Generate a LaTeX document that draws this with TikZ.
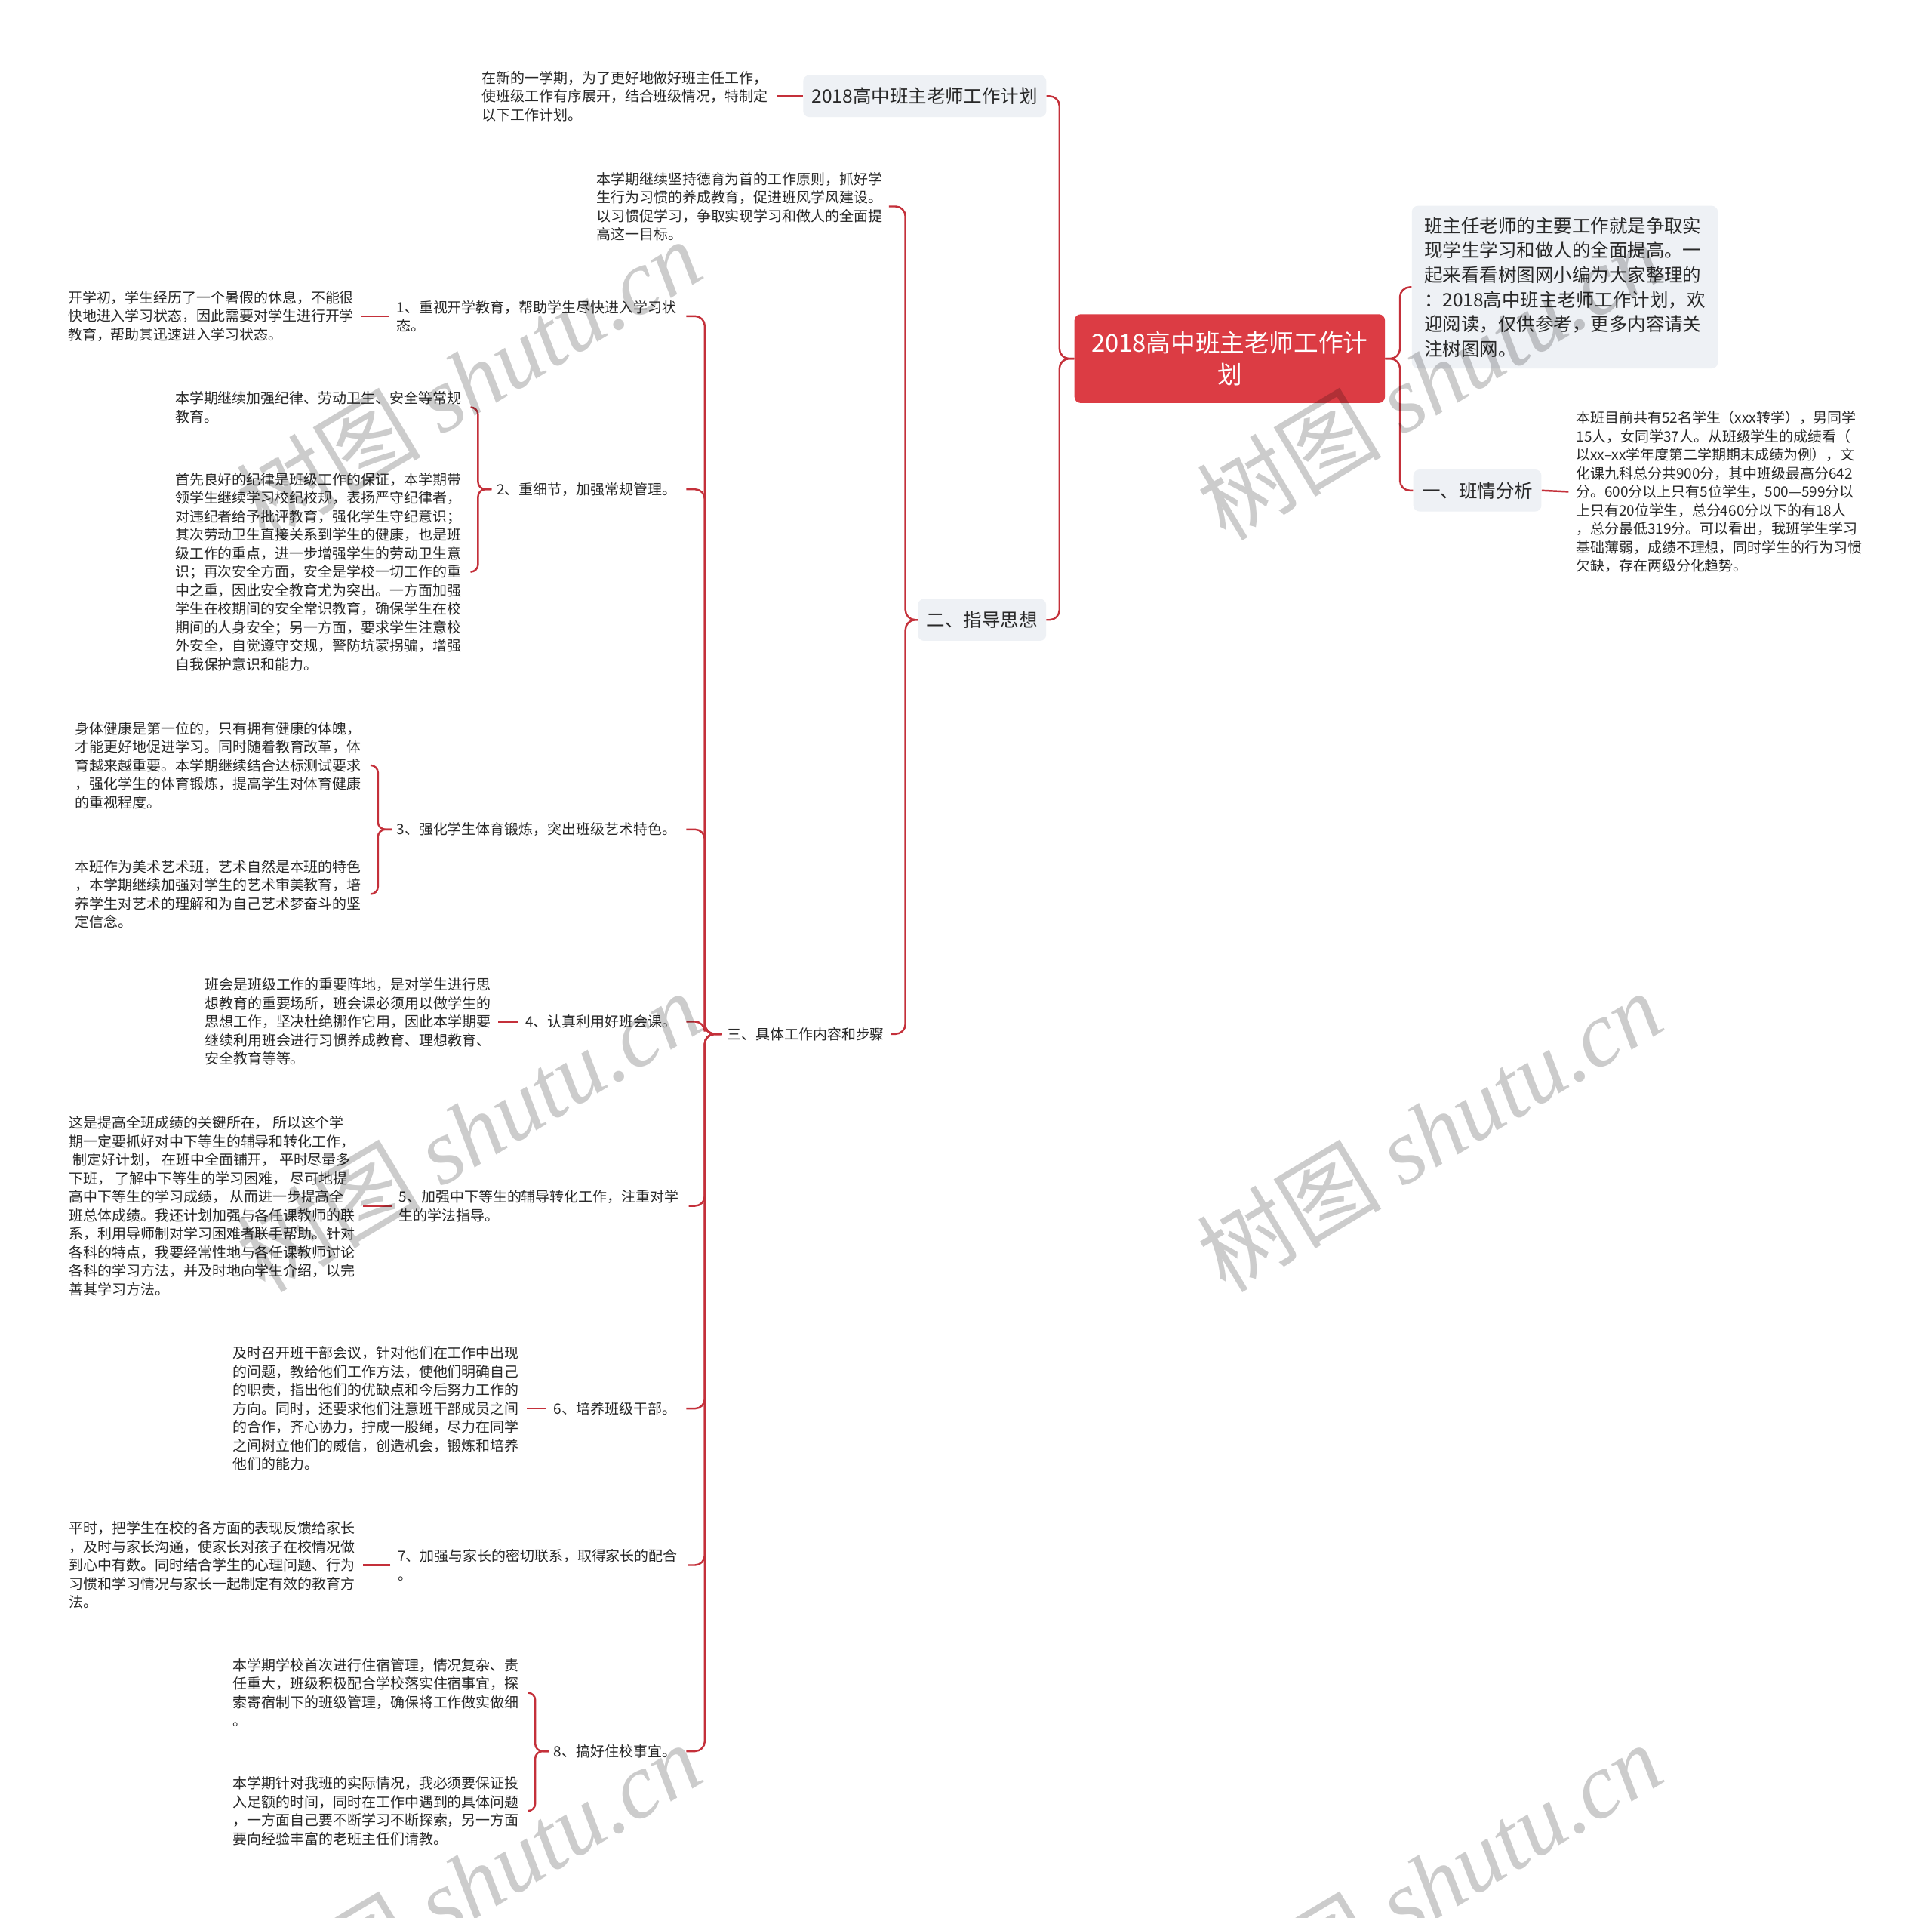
\documentclass[tikz,border=0pt]{standalone}
\usepackage{fontspec}
\setmainfont{Noto Sans CJK SC}
\newfontfamily\wmlat{Liberation Serif}
\definecolor{rootred}{RGB}{220,60,68}
\definecolor{linered}{RGB}{196,48,58}
\definecolor{boxgray}{RGB}{238,241,245}
\definecolor{txt}{RGB}{40,40,40}
\tikzset{
  conn/.style={draw=linered, line width=1.5pt, rounded corners=8pt},
  leaf/.style={inner sep=0pt, align=left, text=txt, font=\fontsize{11.6}{15}\selectfont},
  midbox/.style={fill=boxgray, rounded corners=5pt, inner xsep=7pt, inner ysep=0pt,
    minimum height=34pt, text=txt, font=\fontsize{15}{20}\selectfont},
  descbox/.style={fill=boxgray, rounded corners=5pt, inner xsep=10pt, inner ysep=0pt,
    minimum height=132pt, minimum width=248pt, align=left, text=txt, font=\fontsize{15}{20}\selectfont},
  rootbox/.style={fill=rootred, rounded corners=5pt, inner sep=0pt, minimum width=252pt,
    minimum height=72pt, align=center, text=white, font=\fontsize{20}{26}\selectfont},
  wm/.style={text=black, text opacity=0.2, inner sep=0pt, anchor=base west, rotate=31,
    font=\fontsize{75}{80}\selectfont}
}
\newcommand{\wmtext}{树图 {\wmlat\itshape shutu.cn}}
\begin{document}
\begin{tikzpicture}[x=1pt,y=-1pt]
\useasboundingbox[fill=white] (0,0) rectangle (1568,1556);

% root and right side
\node[rootbox] (root) at (998,291) {2018高中班主老师工作计\\划};
\node[descbox] (desc) at (1270,233) {班主任老师的主要工作就是争取实\\现学生学习和做人的全面提高。一\\起来看看树图网小编为大家整理的\\：2018高中班主老师工作计划，欢\\迎阅读，仅供参考，更多内容请关\\注树图网。};
\node[midbox] (bq) at (1199,398) {一、班情分析};
\node[leaf, anchor=west] (bqleaf) at (1279,399) {本班目前共有52名学生（xxx转学），男同学\\15人，女同学37人。从班级学生的成绩看（\\以xx–xx学年度第二学期期末成绩为例），文\\化课九科总分共900分，其中班级最高分642\\分。600分以上只有5位学生，500—599分以\\上只有20位学生，总分460分以下的有18人\\，总分最低319分。可以看出，我班学生学习\\基础薄弱，成绩不理想，同时学生的行为习惯\\欠缺，存在两级分化趋势。};

% left first level
\node[midbox] (title) at (750.5,78) {2018高中班主老师工作计划};
\node[leaf, anchor=west] (titleleaf) at (391,78) {在新的一学期，为了更好地做好班主任工作，\\使班级工作有序展开，结合班级情况，特制定\\以下工作计划。};
\node[midbox] (zd) at (797,503) {二、指导思想};
\node[leaf, anchor=west] (zdleaf) at (484,167.5) {本学期继续坚持德育为首的工作原则，抓好学\\生行为习惯的养成教育，促进班风学风建设。\\以习惯促学习，争取实现学习和做人的全面提\\高这一目标。};
\node[leaf, anchor=west] (s3) at (590,839) {三、具体工作内容和步骤};

% items
\node[leaf, anchor=east] (i1) at (549,256.5) {1、重视开学教育，帮助学生尽快进入学习状\\态。};
\node[leaf, anchor=west] (l1) at (55,256.5) {开学初，学生经历了一个暑假的休息，不能很\\快地进入学习状态，因此需要对学生进行开学\\教育，帮助其迅速进入学习状态。};

\node[leaf, anchor=east] (i2) at (549,397) {2、重细节，加强常规管理。};
\node[leaf, anchor=west] (l2a) at (142,330.5) {本学期继续加强纪律、劳动卫生、安全等常规\\教育。};
\node[leaf, anchor=west] (l2b) at (142,464) {首先良好的纪律是班级工作的保证，本学期带\\领学生继续学习校纪校规，表扬严守纪律者，\\对违纪者给予批评教育，强化学生守纪意识；\\其次劳动卫生直接关系到学生的健康，也是班\\级工作的重点，进一步增强学生的劳动卫生意\\识；再次安全方面，安全是学校一切工作的重\\中之重，因此安全教育尤为突出。一方面加强\\学生在校期间的安全常识教育，确保学生在校\\期间的人身安全；另一方面，要求学生注意校\\外安全，自觉遵守交规，警防坑蒙拐骗，增强\\自我保护意识和能力。};

\node[leaf, anchor=east] (i3) at (549,673) {3、强化学生体育锻炼，突出班级艺术特色。};
\node[leaf, anchor=west] (l3a) at (61,621) {身体健康是第一位的，只有拥有健康的体魄，\\才能更好地促进学习。同时随着教育改革，体\\育越来越重要。本学期继续结合达标测试要求\\，强化学生的体育锻炼，提高学生对体育健康\\的重视程度。};
\node[leaf, anchor=west] (l3b) at (61,725.5) {本班作为美术艺术班，艺术自然是本班的特色\\，本学期继续加强对学生的艺术审美教育，培\\养学生对艺术的理解和为自己艺术梦奋斗的坚\\定信念。};

\node[leaf, anchor=east] (i4) at (549,829) {4、认真利用好班会课。};
\node[leaf, anchor=west] (l4) at (166,829) {班会是班级工作的重要阵地，是对学生进行思\\想教育的重要场所，班会课必须用以做学生的\\思想工作，坚决杜绝挪作它用，因此本学期要\\继续利用班会进行习惯养成教育、理想教育、\\安全教育等等。};

\node[leaf, anchor=east] (i5) at (551,978.5) {5、加强中下等生的辅导转化工作，注重对学\\生的学法指导。};
\node[leaf, anchor=west] (l5) at (56,978.5) {这是提高全班成绩的关键所在， 所以这个学\\期一定要抓好对中下等生的辅导和转化工作，\\\hspace*{0.25em}制定好计划， 在班中全面铺开， 平时尽量多\\下班， 了解中下等生的学习困难， 尽可地提\\高中下等生的学习成绩， 从而进一步提高全\\班总体成绩。我还计划加强与各任课教师的联\\系，利用导师制对学习困难者联手帮助。针对\\各科的特点，我要经常性地与各任课教师讨论\\各科的学习方法，并及时地向学生介绍，以完\\善其学习方法。};

\node[leaf, anchor=east] (i6) at (549,1143) {6、培养班级干部。};
\node[leaf, anchor=west] (l6) at (189,1143) {及时召开班干部会议，针对他们在工作中出现\\的问题，教给他们工作方法，使他们明确自己\\的职责，指出他们的优缺点和今后努力工作的\\方向。同时，还要求他们注意班干部成员之间\\的合作，齐心协力，拧成一股绳，尽力在同学\\之间树立他们的威信，创造机会，锻炼和培养\\他们的能力。};

\node[leaf, anchor=east] (i7) at (550,1270) {7、加强与家长的密切联系，取得家长的配合\\。};
\node[leaf, anchor=west] (l7) at (56,1270) {平时，把学生在校的各方面的表现反馈给家长\\，及时与家长沟通，使家长对孩子在校情况做\\到心中有数。同时结合学生的心理问题、行为\\习惯和学习情况与家长一起制定有效的教育方\\法。};

\node[leaf, anchor=east] (i8) at (549,1421) {8、搞好住校事宜。};
\node[leaf, anchor=west] (l8a) at (189,1373.5) {本学期学校首次进行住宿管理，情况复杂、责\\任重大，班级积极配合学校落实住宿事宜，探\\索寄宿制下的班级管理，确保将工作做实做细\\。};
\node[leaf, anchor=west] (l8b) at (189,1469.5) {本学期针对我班的实际情况，我必须要保证投\\入足额的时间，同时在工作中遇到的具体问题\\，一方面自己要不断学习不断探索，另一方面\\要向经验丰富的老班主任们请教。};

% connectors: root
\draw[conn] (root.east) -- ++(12pt,0) |- (desc.west);
\draw[conn] (root.east) -- ++(12pt,0) |- (bq.west);
\draw[conn] (root.west) -- ++(-12pt,0) |- (title.east);
\draw[conn] (root.west) -- ++(-12pt,0) |- (zd.east);
\draw[conn] (bq.east) -- ([xshift=-6pt]bqleaf.west);
\draw[conn] (title.west) -- ([xshift=7pt]titleleaf.east);
% 二
\draw[conn] (zd.west) -- ++(-10pt,0) |- ([xshift=5pt]zdleaf.east);
\draw[conn] (zd.west) -- ++(-10pt,0) |- ([xshift=5pt]s3.east);
% 三 -> items
\foreach \i in {i1,i2,i3,i4,i5,i6,i7,i8}{
  \draw[conn] ([xshift=-4pt]s3.west) -- ++(-14pt,0) |- ([xshift=8pt]\i.east);
}
% items -> leaves
\draw[conn] ([xshift=-6pt]i1.west) -- ([xshift=6pt]l1.east |- i1.west);
\draw[conn, rounded corners=6pt] ([xshift=-4pt]i2.west) -- ++(-11pt,0) |- ([xshift=8pt]l2a.east);
\draw[conn, rounded corners=6pt] ([xshift=-4pt]i2.west) -- ++(-11pt,0) |- ([xshift=8pt]l2b.east);
\draw[conn, rounded corners=6pt] ([xshift=-4pt]i3.west) -- ++(-11pt,0) |- ([xshift=8pt]l3a.east);
\draw[conn, rounded corners=6pt] ([xshift=-4pt]i3.west) -- ++(-11pt,0) |- ([xshift=8pt]l3b.east);
\draw[conn] ([xshift=-6pt]i4.west) -- ([xshift=6pt]l4.east |- i4.west);
\draw[conn] ([xshift=-6pt]i5.west) -- ([xshift=6pt]l5.east |- i5.west);
\draw[conn] ([xshift=-6pt]i6.west) -- ([xshift=6pt]l6.east |- i6.west);
\draw[conn] ([xshift=-6pt]i7.west) -- ([xshift=6pt]l7.east |- i7.west);
\draw[conn, rounded corners=6pt] ([xshift=-4pt]i8.west) -- ++(-11pt,0) |- ([xshift=8pt]l8a.east);
\draw[conn, rounded corners=6pt] ([xshift=-4pt]i8.west) -- ++(-11pt,0) |- ([xshift=8pt]l8b.east);

% watermarks
\node[wm] (wmA) at (215,440) {\wmtext};
\node[wm] (wmB) at (995,440) {\wmtext};
\node[wm] (wmC) at (995,1050) {\wmtext};
\node[wm] (wmD) at (215,1050) {\wmtext};
\node[wm] (wmE) at (215,1660) {\wmtext};
\node[wm] (wmF) at (995,1660) {\wmtext};
\end{tikzpicture}
\end{document}
